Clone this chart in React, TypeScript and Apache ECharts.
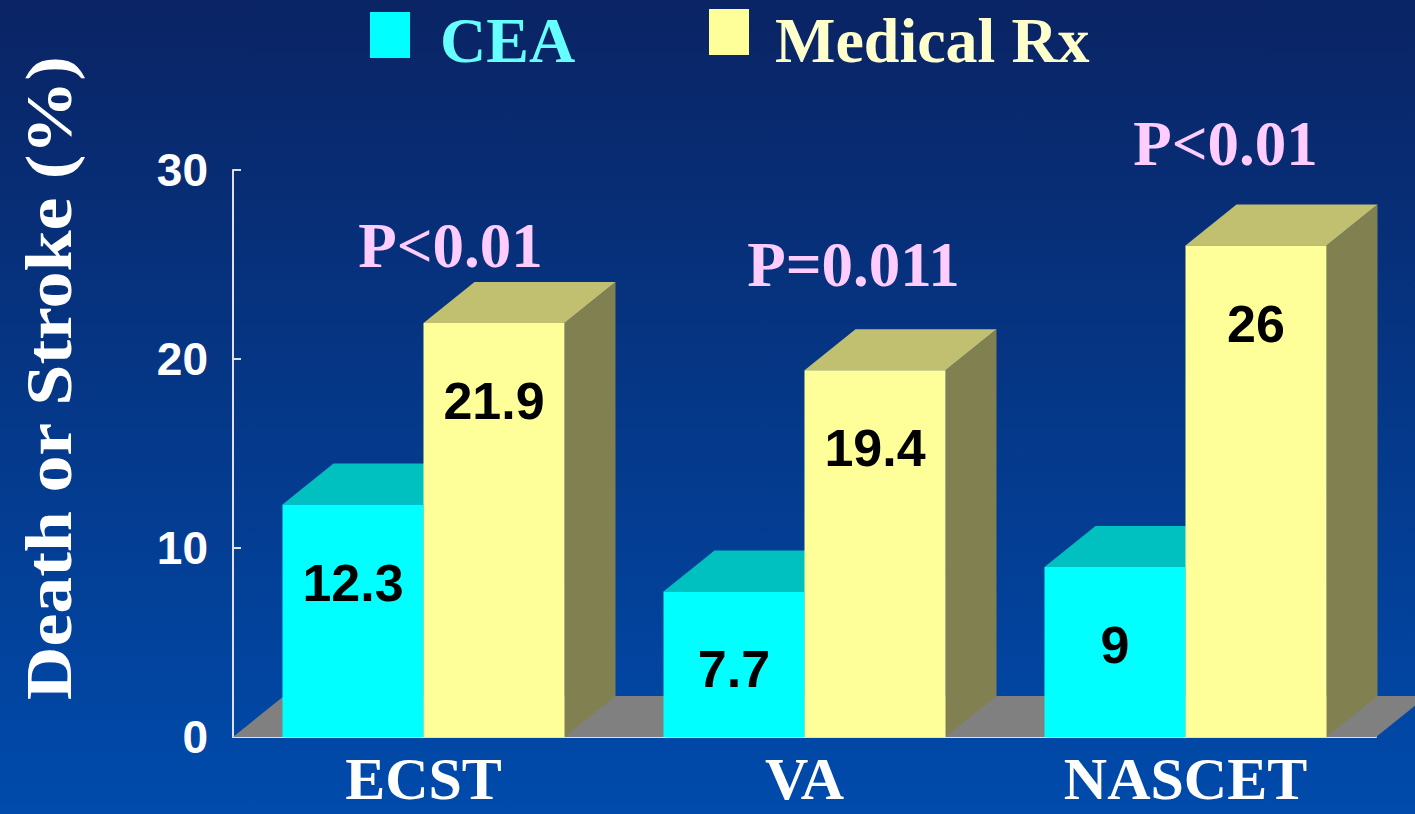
import React, { useEffect, useRef } from "react";
import * as echarts from "echarts";

const categories = ["ECST", "VA", "NASCET"];
const ceaValues = [12.3, 7.7, 9];
const medicalValues = [21.9, 19.4, 26];
const pValueLabels = ["P<0.01", "P=0.011", "P<0.01"];
const pLabelLevels = [26, 25, 31.4];
const pLabelOffsets = [27, 49, 40];
const yMin = 0;
const yMax = 30;
const yInterval = 10;

const DX = 51;
const DY = 41;
const BW = 141;
const SANS = "'Liberation Sans', Arial, sans-serif";
const SERIF = "'Liberation Serif', 'Times New Roman', serif";

function bar3d(side: "left" | "right", front: string, top: string, sideColor: string) {
  return (params: any, api: any) => {
    const idx = api.value(0);
    const val = api.value(1);
    const base = api.coord([idx, 0]);
    const tp = api.coord([idx, val]);
    const cx = base[0];
    const x0 = side === "left" ? cx - BW : cx;
    const x1 = side === "left" ? cx : cx + BW;
    const yb = base[1];
    const yt = tp[1];
    return {
      type: "group",
      children: [
        {
          type: "polygon",
          shape: { points: [[x1, yt], [x1 + DX, yt - DY], [x1 + DX, yb - DY], [x1, yb]] },
          style: { fill: sideColor },
        },
        {
          type: "polygon",
          shape: { points: [[x0, yt], [x1, yt], [x1 + DX, yt - DY], [x0 + DX, yt - DY]] },
          style: { fill: top },
        },
        {
          type: "rect",
          shape: { x: x0, y: yt, width: x1 - x0, height: yb - yt },
          style: { fill: front },
        },
        {
          type: "text",
          style: {
            text: String(val),
            x: (x0 + x1) / 2,
            y: yt + 78,
            align: "center",
            verticalAlign: "middle",
            fill: "#000000",
            fontSize: 52,
            fontWeight: "bold",
            fontFamily: SANS,
          },
        },
      ],
    };
  };
}

export default function App() {
  const ref = useRef<HTMLDivElement>(null);
  useEffect(() => {
    if (!ref.current) return;
    const chart = echarts.init(ref.current, undefined, { renderer: "svg" });
    const option: any = {
      animation: false,
      backgroundColor: new echarts.graphic.LinearGradient(0, 0, 0, 1, [
        { offset: 0, color: "#0A2464" },
        { offset: 1, color: "#004BAC" },
      ]),
      grid: { left: 233, right: 39, top: 170, height: 567 },
      xAxis: {
        type: "category",
        data: categories,
        axisLine: { show: true, lineStyle: { color: "#E0E0E0", width: 2 } },
        axisTick: { show: false },
        axisLabel: {
          color: "#FFFFFF",
          fontSize: 60,
          lineHeight: 60,
          fontWeight: "bold",
          fontFamily: SERIF,
          margin: 12,
        },
        splitLine: { show: false },
      },
      yAxis: {
        type: "value",
        min: yMin,
        max: yMax,
        interval: yInterval,
        axisLine: { show: true, lineStyle: { color: "#E0E0E0", width: 2 } },
        axisTick: { show: true, inside: true, length: 8, lineStyle: { color: "#E0E0E0", width: 2 } },
        axisLabel: {
          color: "#FFFFFF",
          fontSize: 46,
          fontWeight: "bold",
          fontFamily: SANS,
          margin: 25,
          padding: [0, 0, 8, 0],
        },
        splitLine: { show: false },
      },
      graphic: [
        { type: "rect", shape: { x: 370, y: 12, width: 40, height: 46 }, style: { fill: "#00FFFF" } },
        {
          type: "text",
          style: {
            text: "CEA",
            x: 440,
            y: 40,
            verticalAlign: "middle",
            fill: "#66FFFF",
            fontSize: 64,
            fontWeight: "bold",
            fontFamily: SERIF,
          },
        },
        { type: "rect", shape: { x: 709, y: 9, width: 40, height: 46 }, style: { fill: "#FFFF99" } },
        {
          type: "text",
          style: {
            text: "Medical Rx",
            x: 775,
            y: 40,
            verticalAlign: "middle",
            fill: "#FFFFCC",
            fontSize: 64,
            fontWeight: "bold",
            fontFamily: SERIF,
          },
        },
        {
          type: "text",
          x: 49,
          y: 378,
          rotation: Math.PI / 2,
          scaleX: 1.12,
          style: {
            text: "Death or Stroke (%)",
            x: 0,
            y: 0,
            align: "center",
            verticalAlign: "middle",
            fill: "#FFFFFF",
            fontSize: 66,
            fontWeight: "bold",
            fontFamily: SERIF,
          },
        },
      ],
      series: [
        {
          type: "custom",
          z: 1,
          data: [[0, 0]],
          encode: { x: 0, y: 1 },
          renderItem: (params: any) => {
            const cs = params.coordSys;
            const yb = cs.y + cs.height;
            const xl = cs.x;
            const xr = cs.x + cs.width;
            return {
              type: "polygon",
              shape: { points: [[xl, yb], [xr, yb], [xr + DX, yb - DY], [xl + DX, yb - DY]] },
              style: { fill: "#808080" },
            };
          },
        },
        {
          type: "custom",
          name: "CEA",
          z: 2,
          data: ceaValues.map((v, i) => [i, v]),
          encode: { x: 0, y: 1 },
          renderItem: bar3d("left", "#00FFFF", "#00C0C0", "#008080"),
        },
        {
          type: "custom",
          name: "Medical Rx",
          z: 3,
          data: medicalValues.map((v, i) => [i, v]),
          encode: { x: 0, y: 1 },
          renderItem: bar3d("right", "#FFFF99", "#C0C070", "#808050"),
        },
        {
          type: "custom",
          z: 4,
          data: pLabelLevels.map((v, i) => [i, v]),
          encode: { x: 0, y: 1 },
          renderItem: (params: any, api: any) => {
            const i = api.value(0);
            const p = api.coord([i, api.value(1)]);
            return {
              type: "text",
              style: {
                text: pValueLabels[i],
                x: p[0] + pLabelOffsets[i],
                y: p[1],
                align: "center",
                verticalAlign: "middle",
                fill: "#FFCCFF",
                fontSize: 63,
                fontWeight: "bold",
                fontFamily: SERIF,
              },
            };
          },
        },
      ],
    };
    chart.setOption(option);
    return () => chart.dispose();
  }, []);
  return (
    <div
      ref={ref}
      style={{ position: "fixed", left: 0, top: 0, width: 1415, height: 814 }}
    />
  );
}
